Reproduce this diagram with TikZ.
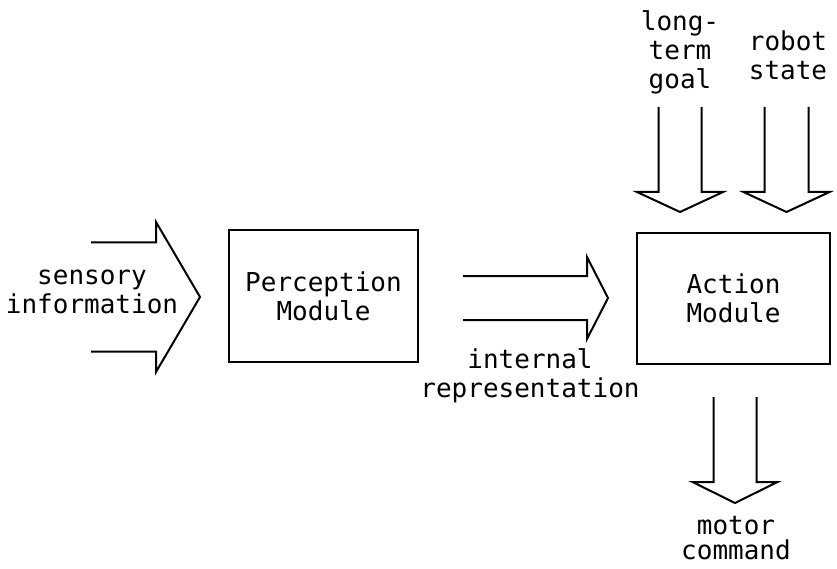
\documentclass[tikz,border=0pt]{standalone}
\usepackage{fontspec}
\setmonofont{DejaVu Sans Mono}
\usepackage{tikz}
\usetikzlibrary{positioning}

% hollow block arrow: tip, angle, tail length, head length, half shaft, half head
\newcommand{\blockarrow}[6]{%
  \draw[blockline, shift={(#1)}, rotate=#2]
    (-#3,#5) -- (-#4,#5) -- (-#4,#6) -- (0,0) -- (-#4,-#6) -- (-#4,-#5) -- (-#3,-#5);}

\begin{document}
\begin{tikzpicture}[x=1pt, y=-1pt,
    every node/.style={font=\ttfamily\fontsize{26}{29}\selectfont, align=center, inner sep=0pt},
    module/.style={draw, line width=2pt, minimum width=#1, minimum height=131pt},
    blockline/.style={line width=2pt, line join=miter},
  ]
  \useasboundingbox (0,0) rectangle (837,569);

  \node[module=189pt] (percep) at (323.5,296) {Perception\\Module};
  \node[module=193pt] (action) at (733.5,298.5) {Action\\Module};

  \node (sensory) at (92,292) {sensory\\information};
  \node (internal) at (530,376) {internal\\representation};
  \node (goal) at (680,52) {long-\\term\\goal};
  \node (state) at (788,55) {robot\\state};
  \node[font=\ttfamily\fontsize{26}{25}\selectfont] (motor) at (736,538) {motor\\command};

  \coordinate (sensory tip) at (200,297);
  \coordinate (internal tip) at (608,298);
  \coordinate (goal tip) at (680,212);
  \coordinate (state tip) at (786.5,212);
  \coordinate (motor tip) at (735,503);

  \blockarrow{sensory tip}{0}{109}{44}{54.5}{75}
  \blockarrow{internal tip}{0}{145}{21}{22}{41}
  \blockarrow{goal tip}{-90}{105}{20}{21.5}{43}
  \blockarrow{state tip}{-90}{105}{20}{22}{43}
  \blockarrow{motor tip}{-90}{106}{21}{21.5}{42.5}
\end{tikzpicture}
\end{document}
